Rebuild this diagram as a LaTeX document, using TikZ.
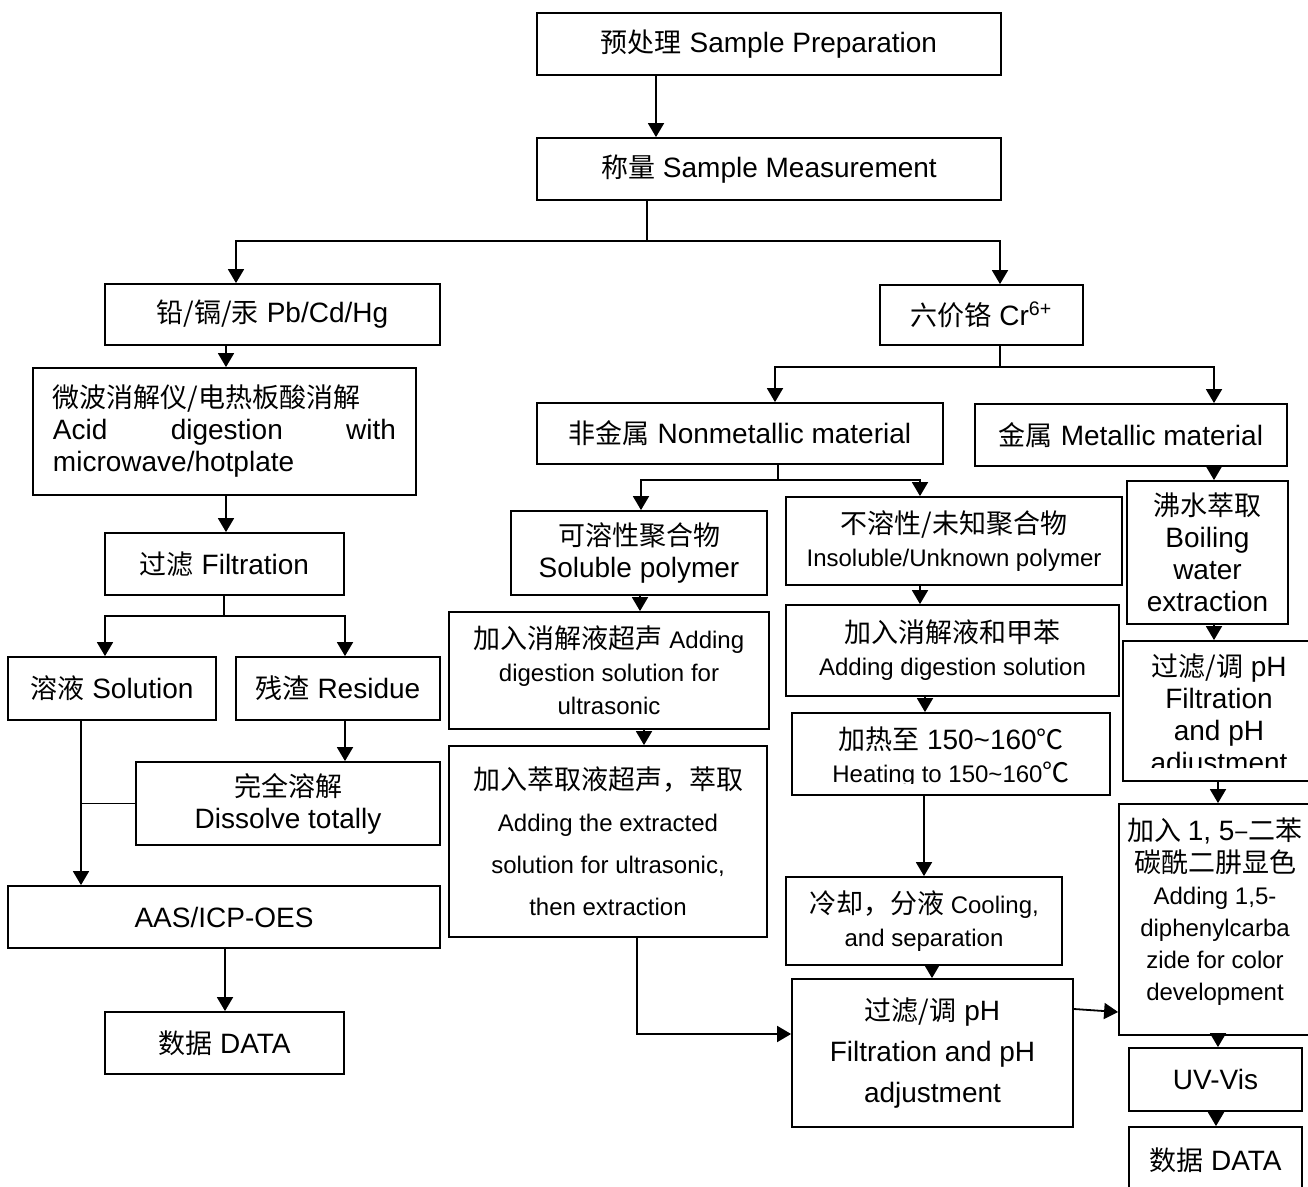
\documentclass[tikz,border=0pt]{standalone}
\usepackage{fontspec}
\setmainfont{Liberation Sans}
\newfontfamily\cjkfont{Noto Sans CJK SC}
\usetikzlibrary{arrows.meta}
\newcommand\zh[1]{{\cjkfont\fontsize{13.5}{16}\selectfont #1}}
\tikzset{
  box/.style={draw=black, line width=0.9pt, rectangle, align=center, inner sep=2pt},
  txt/.style={align=center, inner sep=2pt},
  big/.style={font=\fontsize{14}{16}\selectfont},
  small/.style={font=\fontsize{12}{16.5}\selectfont},
  wire/.style={draw=black, line width=0.9pt},
  arr/.style={wire, -{Triangle[length=7pt,width=8pt]}}
}

\begin{document}
\begin{tikzpicture}[x=0.5pt, y=-0.5pt]
  \path[use as bounding box, fill=white] (0,0) rectangle (1308,1187);
  % top
  \node[box, big, minimum width=232pt, minimum height=31pt] (prep) at (769,44) {\zh{预处理} Sample Preparation};
  \node[box, big, minimum width=232pt, minimum height=31pt] (meas) at (769,169) {\zh{称量} Sample Measurement};
  % Pb/Cd/Hg branch
  \node[box, big, minimum width=167.5pt, minimum height=30.5pt] (pbcd) at (272.5,314.5) {\zh{铅/镉/汞} Pb/Cd/Hg};
  \node[box, big, align=left, text width=171.5pt, minimum width=191.5pt, minimum height=63.5pt] (acid) at (224.5,431.5)
    {\zh{微波消解仪/电热板酸消解}\\Acid\hfill digestion\hfill with\\microwave/hotplate};
  \node[box, big, minimum width=119.5pt, minimum height=31pt] (filt) at (224.5,564) {\zh{过滤} Filtration};
  \node[box, big, minimum width=104pt, minimum height=31.5pt] (sol) at (112,688.5) {\zh{溶液} Solution};
  \node[box, big, minimum width=102pt, minimum height=31.5pt] (res) at (338,688.5) {\zh{残渣} Residue};
  \node[box, big, minimum width=152pt, minimum height=41.5pt] (diss) at (288,803.5) {\zh{完全溶解}\\Dissolve totally};
  \node[box, big, minimum width=216pt, minimum height=31pt] (aas) at (224,917) {AAS/ICP-OES};
  \node[box, big, minimum width=119.5pt, minimum height=31pt] (datL) at (224.5,1043) {\zh{数据} DATA};
  % Cr branch
  \node[box, big, minimum width=101.5pt, minimum height=30pt] (cr) at (981.5,315) {\zh{六价铬} Cr\textsuperscript{6+}};
  \node[box, big, minimum width=203pt, minimum height=30.5pt] (nonm) at (740,433.5) {\zh{非金属} Nonmetallic material};
  \node[box, big, minimum width=156pt, minimum height=31pt] (metal) at (1131,435) {\zh{金属} Metallic material};
  \node[box, big, minimum width=128pt, minimum height=42pt] (solp) at (639,553) {\zh{可溶性聚合物}\\Soluble polymer};
  \node[box, small, minimum width=168pt, minimum height=44pt] (insol) at (954,541) {\zh{不溶性/未知聚合物}\\Insoluble/Unknown polymer};
  \node[box, small, minimum width=160pt, minimum height=58.5pt] (sonic) at (609,670.5)
    {\zh{加入消解液超声} Adding\\digestion solution for\\ultrasonic};
  \node[box, font=\fontsize{12}{21}\selectfont, minimum width=159pt, minimum height=95.5pt] (extr) at (608,841.5)
    {\zh{加入萃取液超声，萃取}\\Adding the extracted\\solution for ultrasonic,\\then extraction};
  \node[box, small, minimum width=166.5pt, minimum height=45.5pt] (dig) at (952.5,650.5) {\zh{加入消解液和甲苯}\\Adding digestion solution};
  \node[box, minimum width=159pt, minimum height=41pt] (heat) at (951,754) {};
  \begin{scope}
    \clip (heat.north west) rectangle (heat.east |- 0,783);
    \node[txt, small] at (951,757) {{\fontsize{14}{16}\selectfont\zh{加热至} 150\textasciitilde160\zh{℃}}\\Heating to 150\textasciitilde160\zh{℃}};
  \end{scope}
  \node[box, small, minimum width=138pt, minimum height=44pt] (cool) at (924,921) {\zh{冷却，分液} Cooling,\\and separation};
  \node[box, font=\fontsize{14}{20.5}\selectfont, minimum width=140.5pt, minimum height=74pt] (fph) at (932.5,1053)
    {\zh{过滤/调} pH\\Filtration and pH\\adjustment};
  % metallic column
  \node[box, big, minimum width=80.5pt, minimum height=71.5pt] (boil) at (1207.5,552.5) {\zh{沸水萃取}\\Boiling\\water\\extraction};
  \node[box, minimum width=96pt, minimum height=70pt] (fph2) at (1219,711) {};
  \begin{scope}
    \clip (fph2.north west) rectangle (fph2.east |- 0,768);
    \node[txt, big] at (1219,716) {\zh{过滤/调} pH\\Filtration\\and pH\\adjustment};
  \end{scope}
  \node[box, minimum width=98pt, minimum height=115.5pt] (color) at (1217,919.5) {};
  \node[txt, font=\fontsize{12}{16}\selectfont] at (1215,912)
    {\zh{加入} {\fontsize{14}{16}\selectfont 1, 5}\zh{–二苯}\\\zh{碳酰二肼显色}\\Adding 1,5-\\diphenylcarba\\zide for color\\development};
  \node[box, big, minimum width=86.5pt, minimum height=31.5pt] (uv) at (1215.5,1079.5) {UV-Vis};
  \node[box, big, minimum width=86.5pt, minimum height=33pt] (datR) at (1215.5,1160) {\zh{数据} DATA};

  % connectors, top
  \draw[arr] (656,0 |- prep.south) -- (656,0 |- meas.north);
  \draw[arr] (647,0 |- meas.south) |- (236,241) -- (236,0 |- pbcd.north);
  \draw[arr] (647,241) -| (1000,0 |- cr.north);
  % Pb/Cd/Hg
  \draw[arr] (226,0 |- pbcd.south) -- (226,0 |- acid.north);
  \draw[arr] (226,0 |- acid.south) -- (226,0 |- filt.north);
  \draw[arr] (224,0 |- filt.south) |- (105,616) -- (105,0 |- sol.north);
  \draw[arr] (224,616) -| (345,0 |- res.north);
  \draw[arr] (345,0 |- res.south) -- (345,0 |- diss.north);
  \draw[arr] (81,0 |- sol.south) -- (81,0 |- aas.north);
  \draw[wire] (diss.west) -- (81,0 |- diss.west);
  \draw[arr] (225,0 |- aas.south) -- (225,0 |- datL.north);
  % Cr6+
  \draw[arr] (1000,0 |- cr.south) |- (775,367) -- (775,0 |- nonm.north);
  \draw[arr] (1000,367) -| (1214,0 |- metal.north);
  \draw[arr] (778,0 |- nonm.south) |- (641,480) -- (641,0 |- solp.north);
  \draw[arr] (778,480) -| (920,0 |- insol.north);
  \draw[arr] (640,0 |- solp.south) -- (640,0 |- sonic.north);
  \draw[arr] (644,0 |- sonic.south) -- (644,0 |- extr.north);
  \draw[arr] (637,0 |- extr.south) |- (fph.west |- 0,1034);
  \draw[arr] (920,0 |- insol.south) -- (920,0 |- dig.north);
  \draw[arr] (925,0 |- dig.south) -- (925,0 |- heat.north);
  \draw[arr] (924,0 |- heat.south) -- (924,0 |- cool.north);
  \draw[arr] (932,0 |- cool.south) -- (932,0 |- fph.north);
  \draw[arr] (fph.east |- 0,1009) -- (color.west |- 0,1012);
  \draw[arr] (1214,0 |- metal.south) -- (1214,0 |- boil.north);
  \draw[arr] (1214,0 |- boil.south) -- (1214,0 |- fph2.north);
  \draw[arr] (1218,0 |- fph2.south) -- (1218,0 |- color.north);
  \draw[arr] (1218,0 |- color.south) -- (1218,0 |- uv.north);
  \draw[arr] (1216,0 |- uv.south) -- (1216,0 |- datR.north);
\end{tikzpicture}
\end{document}
